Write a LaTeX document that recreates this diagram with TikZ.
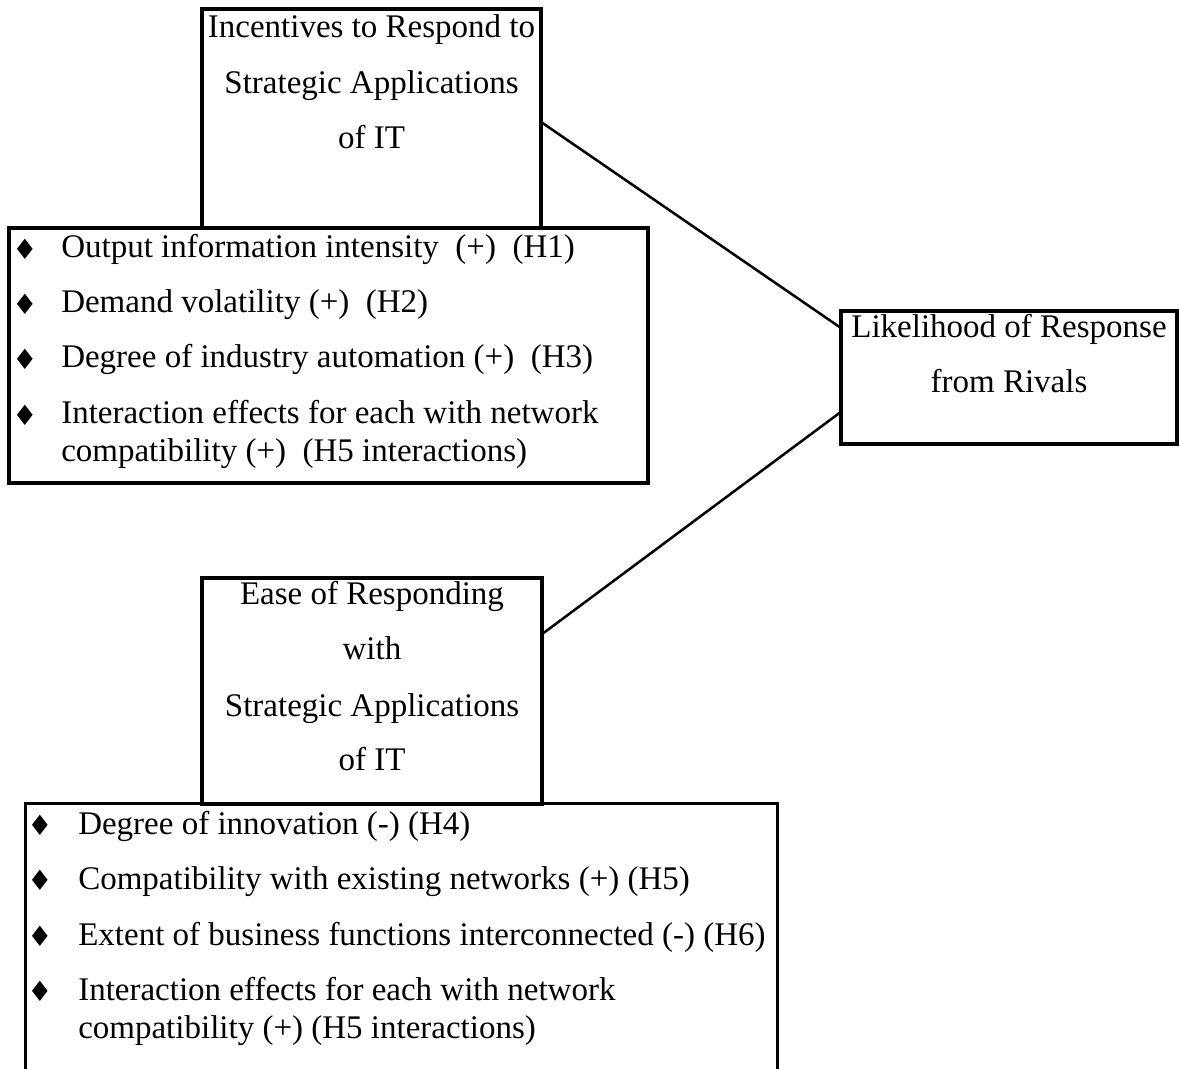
\documentclass[tikz,border=0pt]{standalone}
\usepackage{fontspec}
\setmainfont{Liberation Serif}
\newfontfamily\symfont{DejaVu Sans}
\usetikzlibrary{fit}
\begin{document}
\begin{tikzpicture}[x=0.75pt,y=-0.75pt,
  boxframe/.style={draw, line width=2.3pt, inner sep=0pt},
  openframe/.style={inner sep=0pt},
  edgeline/.style={line width=2.3pt},
  conn/.style={line width=1.9pt},
  ttl/.style={inner sep=0pt, anchor=mid, yshift=-5.2pt, font=\fontsize{24.75}{29}\selectfont},
  itm/.style={inner sep=0pt, anchor=mid west, yshift=-5.2pt, font=\fontsize{24.75}{29}\selectfont},
  bul/.style={inner sep=0pt, anchor=center, yshift=-1pt, font=\symfont\fontsize{21}{21}\selectfont}]
\useasboundingbox (0,0) rectangle (1180,1069);

% boxes
\node[boxframe, fit={(202,9) (541,228)}] (inc) {};
\node[boxframe, fit={(9,228) (648,483)}] (incl) {};
\node[boxframe, fit={(841,311) (1177,444)}] (lik) {};
\node[boxframe, fit={(202,578) (542,804)}] (ease) {};
\node[openframe, fit={(26,804) (777,1080)}] (easel) {};
\draw[edgeline] (easel.south west) -- (easel.north west) -- (easel.north east) -- (easel.south east);

% titles
\node[ttl] (inc1) at (371.5,28) {Incentives to Respond to};
\node[ttl] (inc2) at (371.5,84) {Strategic Applications};
\node[ttl] (inc3) at (371.5,139) {of IT};

\node[ttl] (lik1) at (1009,328) {Likelihood of Response};
\node[ttl] (lik2) at (1009,383) {from Rivals};

\node[ttl] (ease1) at (372,595) {Ease of Responding};
\node[ttl] (ease2) at (372,650) {with};
\node[ttl] (ease3) at (372,707) {Strategic Applications};
\node[ttl] (ease4) at (372,761) {of IT};

% list 1
\node[bul] (ba1) at (25,248) {♦};
\node[itm] (ia1) at (61,248) {Output information intensity\ \ (+)\ \ (H1)};
\node[bul] (ba2) at (25,303) {♦};
\node[itm] (ia2) at (61,303) {Demand volatility (+)\ \ (H2)};
\node[bul] (ba3) at (25,358) {♦};
\node[itm] (ia3) at (61,358) {Degree of industry automation (+)\ \ (H3)};
\node[bul] (ba4) at (25,414) {♦};
\node[itm] (ia4) at (61,414) {Interaction effects for each with network};
\node[itm] (ia5) at (61,452) {compatibility (+)\ \ (H5 interactions)};

% list 2
\node[bul] (bb1) at (40,824) {♦};
\node[itm] (ib1) at (78,824) {Degree of innovation (-) (H4)};
\node[bul] (bb2) at (40,879) {♦};
\node[itm] (ib2) at (78,879) {Compatibility with existing networks (+) (H5)};
\node[bul] (bb3) at (40,935) {♦};
\node[itm] (ib3) at (78,935) {Extent of business functions interconnected (-) (H6)};
\node[bul] (bb4) at (40,990) {♦};
\node[itm] (ib4) at (78,990) {Interaction effects for each with network};
\node[itm] (ib5) at (78,1028) {compatibility (+) (H5 interactions)};

% connectors
\draw[conn] ([yshift=-3.4pt]inc.east) -- ([yshift=37.9pt]lik.west);
\draw[conn] ([yshift=43.5pt]ease.east) -- ([yshift=-26.6pt]lik.west);
\end{tikzpicture}
\end{document}
